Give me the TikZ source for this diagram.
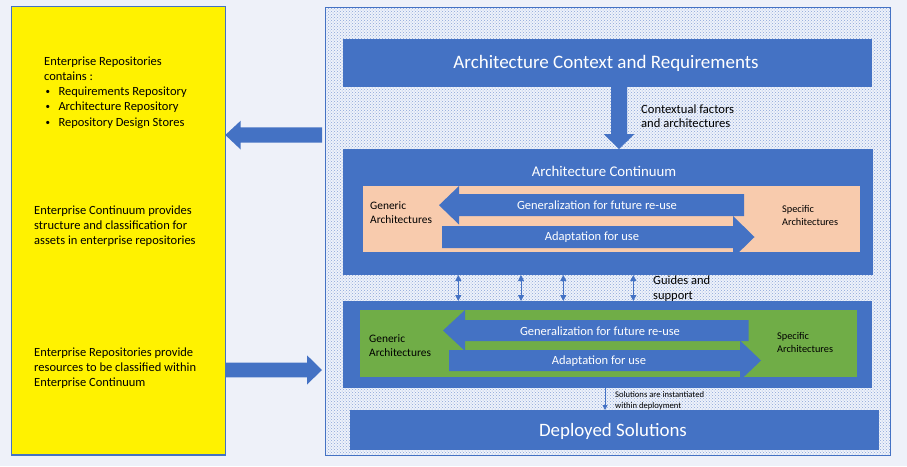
\documentclass[tikz,border=0pt]{standalone}
\usepackage{fontspec}
\setmainfont{Carlito}
\usetikzlibrary{patterns,arrows.meta}
\definecolor{pagebg}{HTML}{EEF1F9}
\definecolor{obl}{HTML}{4472C4}
\definecolor{peach}{HTML}{F8CBAD}
\definecolor{grn}{HTML}{70AD47}
\definecolor{dotbg}{HTML}{EEF2FA}
\definecolor{dotc}{HTML}{8AA5D8}
\begin{document}
\begin{tikzpicture}[x=1pt,y=-1pt,
  box/.style={fill=#1, inner sep=0, outer sep=0, anchor=north west},
  ln/.style={anchor=base west, inner sep=0},
  ctr/.style={anchor=base, inner sep=0},
  fs/.style={font=\fontsize{#1}{#1}\selectfont},
  wt/.style={text=white},
  blockarrow/.style={fill=obl, draw=none},
  thin/.style={draw=obl, line width=0.9pt},
  dbl/.style={thin, {Triangle[width=6pt,length=6pt]}-{Triangle[width=6pt,length=6pt]}},
  sgl/.style={thin, -{Triangle[width=5pt,length=5pt]}}]
\useasboundingbox[fill=pagebg] (0,0) rectangle (907,466);

% ---------- left yellow panel ----------
\node[box=yellow, draw=obl, line width=1.5pt, minimum width=213.6pt, minimum height=448.3pt] (yel) at (11.7,6.7) {};
\node[ln, fs=12.5] (t1a) at (44,65) {Enterprise Repositories};
\node[ln, fs=12.5] (t1b) at (44,80) {contains :};
\node[ln, fs=9] (b1) at (45.5,94.5) {•};
\node[ln, fs=9] (b2) at (45.5,109.5) {•};
\node[ln, fs=9] (b3) at (45.5,125.5) {•};
\node[ln, fs=12.5] (t1c) at (58.3,95) {Requirements Repository};
\node[ln, fs=12.5] (t1d) at (58.3,110) {Architecture Repository};
\node[ln, fs=12.5] (t1e) at (58.3,126) {Repository Design Stores};
\node[ln, fs=12.5] (t2a) at (34,214) {Enterprise Continuum provides};
\node[ln, fs=12.5] (t2b) at (34,229) {structure and classification for};
\node[ln, fs=12.5] (t2c) at (34,244) {assets in enterprise repositories};
\node[ln, fs=12.5] (t3a) at (34,356.7) {Enterprise Repositories provide};
\node[ln, fs=12.5] (t3b) at (34,371.7) {resources to be classified within};
\node[ln, fs=12.5] (t3c) at (34,386.7) {Enterprise Continuum};

% ---------- right dotted panel ----------
\fill[dotbg] (325,7.3) rectangle (890,455);
\fill[pattern=crosshatch dots, pattern color=dotc] (325,7.3) rectangle (890,455);
\node[box=none, draw=obl, line width=0.8pt, minimum width=565pt, minimum height=447.7pt] (dotbox) at (325,7.3) {};

% top box
\node[box=obl, minimum width=529pt, minimum height=47.5pt] (ctx) at (343,39) {};
\node[ctr, fs=19, wt] (ctxt) at (606,68.4) {Architecture Context and Requirements};

% architecture continuum box
\node[box=obl, minimum width=530pt, minimum height=126pt] (ac) at (343,149) {};
\node[ctr, fs=14.8, wt] (act) at (604,176.7) {Architecture Continuum};
\node[box=peach, minimum width=497pt, minimum height=66pt] (pe) at (363,186) {};

% arrow from context to continuum
\fill[blockarrow] (ctx.south -| 611,0) -- (ctx.south -| 627,0) -- (627,134) -- (634.5,134)
  -- (ac.north -| 619,0) -- (603.5,134) -- (611,134) -- cycle;
\node[ln, fs=12.6] (cf1) at (641,113) {Contextual factors};
\node[ln, fs=12.6] (cf2) at (641,127) {and architectures};

% peach arrows
\fill[blockarrow] (744,194) -- (459,194) -- (459,186) -- (439,205.2) -- (459,224.5) -- (459,216) -- (744,216) -- cycle;
\node[ctr, fs=12.5, wt] (g1) at (597,209) {Generalization for future re-use};
\fill[blockarrow] (442,226) -- (733,226) -- (733,216) -- (754.5,237) -- (733,258) -- (733,248) -- (442,248) -- cycle;
\node[ctr, fs=12.5, wt] (a1) at (592,240.7) {Adaptation for use};
\node[ln, fs=11.4] (ge1a) at (370,209.3) {Generic};
\node[ln, fs=11.4] (ge1b) at (370,223.6) {Architectures};
\node[ln, fs=10.3] (sp1a) at (782,212.3) {Specific};
\node[ln, fs=10.3] (sp1b) at (782,225) {Architectures};

% second box
\node[box=obl, minimum width=529pt, minimum height=86.5pt] (gs) at (343,301) {};
\node[box=grn, minimum width=497pt, minimum height=67pt] (gr) at (360,310) {};
\fill[blockarrow] (748.6,320) -- (465,320) -- (465,310) -- (443,330.5) -- (465,351) -- (465,341) -- (748.6,341) -- cycle;
\node[ctr, fs=12.5, wt] (g2) at (600,335) {Generalization for future re-use};
\fill[blockarrow] (449,350) -- (740,350) -- (740,340.5) -- (761,360.5) -- (740,380.5) -- (740,371) -- (449,371) -- cycle;
\node[ctr, fs=12.5, wt] (a2) at (599,364) {Adaptation for use};
\node[ln, fs=11.4] (ge2a) at (369,342.9) {Generic};
\node[ln, fs=11.4] (ge2b) at (369,356.3) {Architectures};
\node[ln, fs=10.3] (sp2a) at (777,339) {Specific};
\node[ln, fs=10.3] (sp2b) at (777,352.3) {Architectures};

% guides and support arrows
\coordinate (d1) at (458.3,0);
\coordinate (d2) at (521,0);
\coordinate (d3) at (563.3,0);
\coordinate (d4) at (633.3,0);
\foreach \d in {d1,d2,d3,d4} \draw[dbl] (ac.south -| \d) -- (gs.north -| \d);
\node[ln, fs=12.5] (gu1) at (653,284) {Guides and};
\node[ln, fs=12.5] (gu2) at (653,299) {support};

% deployed solutions
\node[box=obl, minimum width=529pt, minimum height=40pt] (dep) at (350,410) {};
\node[ctr, fs=18.9, wt] (dept) at (613,436) {Deployed Solutions};
\coordinate (d5) at (605,0);
\draw[sgl] (gs.south -| d5) -- (dep.north -| d5);
\node[ln, fs=8.6] (so1) at (615,397.1) {Solutions are instantiated};
\node[ln, fs=8.6] (so2) at (615,408.1) {within deployment};

% side block arrows
\coordinate (ae) at (322,0);
\fill[blockarrow] (ae |- 0,127.3) -- (240.7,127.3) -- (240.7,120.7) -- (yel.east |- 0,135)
  -- (240.7,149.5) -- (240.7,142.7) -- (ae |- 0,142.7) -- cycle;
\fill[blockarrow] (yel.east |- 0,362.7) -- (307,362.7) -- (307,355.3) -- (ae |- 0,370)
  -- (307,384.5) -- (307,377.3) -- (yel.east |- 0,377.3) -- cycle;
\end{tikzpicture}
\end{document}
